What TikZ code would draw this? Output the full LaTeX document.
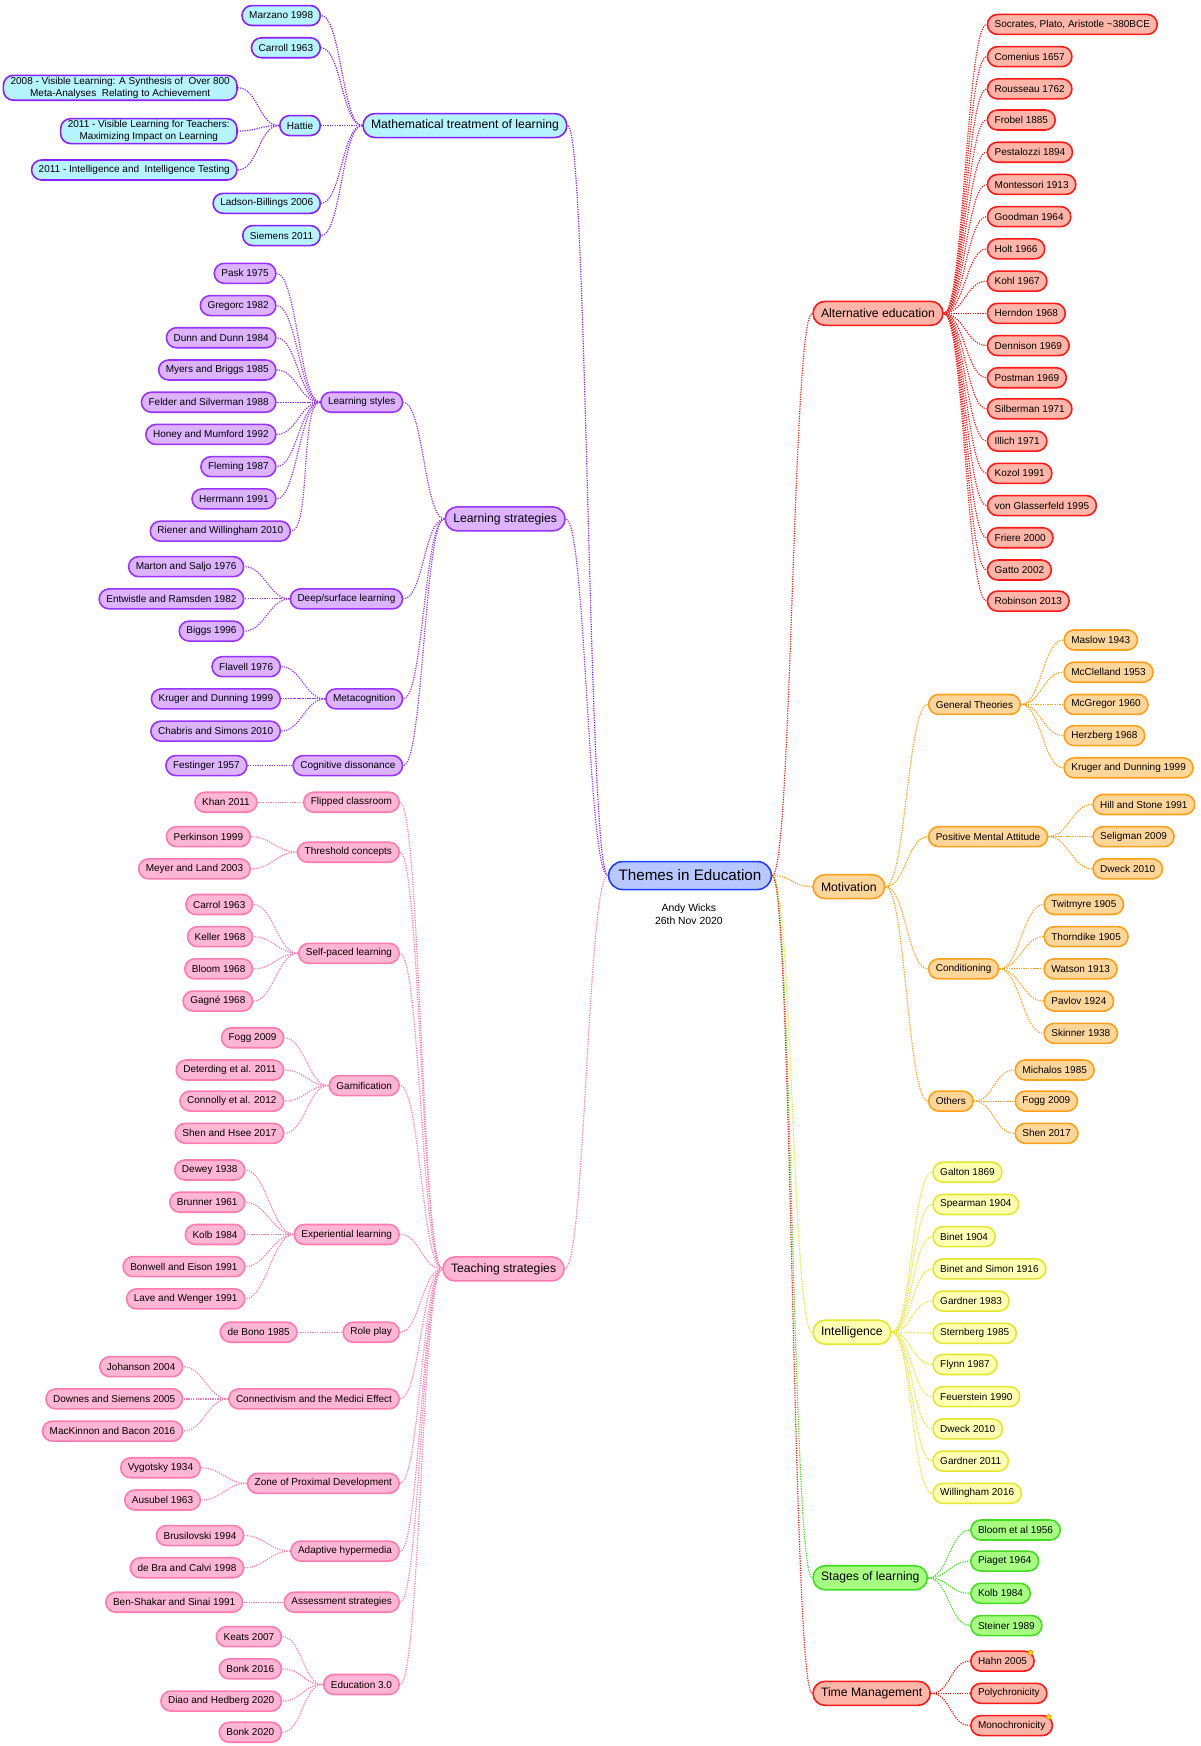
\documentclass[tikz,border=0pt]{standalone}
\usepackage{fontspec}
\setmainfont{Liberation Sans}
\definecolor{mathfill}{HTML}{B5F3FF}
\definecolor{mathline}{HTML}{8A1FFF}
\definecolor{lsfill}{HTML}{DDB3FF}
\definecolor{lsline}{HTML}{9933FF}
\definecolor{tfill}{HTML}{FFB6D5}
\definecolor{tline}{HTML}{FF7AAE}
\definecolor{afill}{HTML}{FFB5A8}
\definecolor{aline}{HTML}{FF1A1A}
\definecolor{mfill}{HTML}{FFD699}
\definecolor{mline}{HTML}{FFA01A}
\definecolor{ifill}{HTML}{FFFFB3}
\definecolor{iline}{HTML}{E6E62E}
\definecolor{sfill}{HTML}{A6FF80}
\definecolor{sline}{HTML}{44DD22}
\definecolor{rfill}{HTML}{B8C8FF}
\definecolor{rline}{HTML}{2040FF}
\tikzset{
  mm/.style={rounded corners=5pt, line width=0.8pt, minimum height=10pt, inner xsep=3.6pt, inner ysep=1pt,
    font=\fontsize{5}{5.8}\selectfont, align=center},
  big/.style={font=\fontsize{6.1}{7}\selectfont, minimum height=12pt, inner xsep=4pt, rounded corners=6pt},
  link/.style={line width=0.6pt, dash pattern=on 0.6pt off 0.6pt},
  go left/.style={to path={.. controls +(-10pt,0) and +(10pt,0) .. (\tikztotarget)}},
  go right/.style={to path={.. controls +(10pt,0) and +(-10pt,0) .. (\tikztotarget)}},
  mathbox/.style={mm, fill=mathfill, draw=mathline}, mathlink/.style={link, draw=mathline},
  lsbox/.style={mm, fill=lsfill, draw=lsline}, lslink/.style={link, draw=lsline},
  tbox/.style={mm, fill=tfill, draw=tline}, tlink/.style={link, draw=tline},
  abox/.style={mm, fill=afill, draw=aline}, alink/.style={link, draw=aline},
  mbox/.style={mm, fill=mfill, draw=mline}, mlink/.style={link, draw=mline},
  ibox/.style={mm, fill=ifill, draw=iline}, ilink/.style={link, draw=iline},
  sbox/.style={mm, fill=sfill, draw=sline}, slink/.style={link, draw=sline},
}
\begin{document}
\begin{tikzpicture}[x=0.5556pt, y=-0.5556pt]
\useasboundingbox[fill=white] (0,-3) rectangle (1080,1568.4);
% centre
\node [mm, fill=rfill, draw=rline, font=\fontsize{7.6}{9}\selectfont, minimum height=14pt, rounded corners=7pt, inner xsep=5pt] (root) at (621,785) {Themes in Education};
\node [font=\fontsize{5.2}{6.2}\selectfont, align=center] (author) at (620,820) {Andy Wicks\\26th Nov 2020};
% main branches, left
\node [mathbox, big, anchor=west] (math) at (326,110) {Mathematical treatment of learning};
\node [lsbox, big, anchor=west] (lstrat) at (400,464) {Learning strategies};
\node [tbox, big, anchor=west] (teach) at (398,1139) {Teaching strategies};
\draw [mathlink] (root.west) to[go left] (math.east);
\draw [lslink] (root.west) to[go left] (lstrat.east);
\draw [tlink] (root.west) to[go left] (teach.east);
% main branches, right
\node [abox, big, anchor=west] (alt) at (731,279) {Alternative education};
\node [mbox, big, anchor=west] (motiv) at (731,795) {Motivation};
\node [ibox, big, anchor=west] (intel) at (731,1196) {Intelligence};
\node [sbox, big, anchor=west] (stages) at (731,1417) {Stages of learning};
\node [abox, big, anchor=west] (time) at (731,1521) {Time Management};
\draw [alink] (root.east) to[go right] (alt.west);
\draw [mlink] (root.east) to[go right] (motiv.west);
\draw [ilink] (root.east) to[go right] (intel.west);
\draw [slink] (root.east) to[go right] (stages.west);
\draw [alink] (root.east) to[go right] (time.west);

% mathematical treatment
\node [mathbox, anchor=east] (hattie) at (289,110) {Hattie};
\draw [mathlink] (math.west) to[go left] (hattie.east);
\foreach \i/\y/\t in {1/11/Marzano 1998, 2/40/Carroll 1963, 3/180/Ladson-Billings 2006, 4/209/Siemens 2011}{
  \node [mathbox, anchor=east] (ma\i) at (289,\y) {\t};
  \draw [mathlink] (math.west) to[go left] (ma\i.east);
}
\foreach \i/\y/\t in {1/76/{2008 - Visible Learning: A Synthesis of \ Over 800\\Meta-Analyses \ Relating to Achievement},
    2/115/{2011 - Visible Learning for Teachers:\\Maximizing Impact on Learning},
    3/150/{2011 - Intelligence and \ Intelligence Testing}}{
  \node [mathbox, anchor=east] (ha\i) at (214,\y) {\t};
  \draw [mathlink] (hattie.west) to[go left] (ha\i.east);
}

% learning strategies
\foreach \n/\y/\t in {lstyles/359/Learning styles, deep/536/{Deep/surface learning}, meta/626/Metacognition, cogd/686/Cognitive dissonance}{
  \node [lsbox, anchor=east] (\n) at (363,\y) {\t};
  \draw [lslink] (lstrat.west) to[go left] (\n.east);
}
\foreach \i/\y/\t in {1/243/Pask 1975, 2/272/Gregorc 1982, 3/301/Dunn and Dunn 1984, 4/330/Myers and Briggs 1985,
    5/359/Felder and Silverman 1988, 6/388/Honey and Mumford 1992, 7/417/Fleming 1987, 8/446/Herrmann 1991}{
  \node [lsbox, anchor=east] (st\i) at (249,\y) {\t};
  \draw [lslink] (lstyles.west) to[go left] (st\i.east);
}
\node [lsbox, anchor=east] (st9) at (262,475) {Riener and Willingham 2010};
\draw [lslink] (lstyles.west) to[go left] (st9.east);
\foreach \i/\y/\t in {1/507/Marton and Saljo 1976, 2/536/Entwistle and Ramsden 1982, 3/565/Biggs 1996}{
  \node [lsbox, anchor=east] (dp\i) at (220,\y) {\t};
  \draw [lslink] (deep.west) to[go left] (dp\i.east);
}
\foreach \i/\y/\t in {1/597/Flavell 1976, 2/626/Kruger and Dunning 1999, 3/655/Chabris and Simons 2010}{
  \node [lsbox, anchor=east] (mc\i) at (253,\y) {\t};
  \draw [lslink] (meta.west) to[go left] (mc\i.east);
}
\node [lsbox, anchor=east] (cd1) at (223,686) {Festinger 1957};
\draw [lslink] (cogd.west) -- (cd1.east);

% teaching strategies
\foreach \n/\y/\t in {flip/719/Flipped classroom, thresh/764/Threshold concepts, selfp/855/Self-paced learning,
    gamif/974/Gamification, exper/1108/Experiential learning, role/1196/Role play,
    conn/1256/Connectivism and the Medici Effect, zpd/1332/Zone of Proximal Development,
    adapt/1393/Adaptive hypermedia, assess/1439/Assessment strategies, edu/1513/Education 3.0}{
  \node [tbox, anchor=east] (\n) at (360,\y) {\t};
  \draw [tlink] (teach.west) to[go left] (\n.east);
}
\node [tbox, anchor=east] (fl1) at (232,719) {Khan 2011};
\draw [tlink] (flip.west) -- (fl1.east);
\foreach \i/\y/\t in {1/750/Perkinson 1999, 2/779/Meyer and Land 2003}{
  \node [tbox, anchor=east] (th\i) at (226,\y) {\t};
  \draw [tlink] (thresh.west) to[go left] (th\i.east);
}
\foreach \i/\y/\t in {1/811/Carrol 1963, 2/840/Keller 1968, 3/869/Bloom 1968, 4/898/Gagné 1968}{
  \node [tbox, anchor=east] (sp\i) at (228,\y) {\t};
  \draw [tlink] (selfp.west) to[go left] (sp\i.east);
}
\foreach \i/\y/\t in {1/931/Fogg 2009, 2/960/Deterding et al. 2011, 3/988/Connolly et al. 2012, 4/1017/Shen and Hsee 2017}{
  \node [tbox, anchor=east] (gm\i) at (256,\y) {\t};
  \draw [tlink] (gamif.west) to[go left] (gm\i.east);
}
\foreach \i/\y/\t in {1/1050/Dewey 1938, 2/1079/Brunner 1961, 3/1108/Kolb 1984, 4/1137/Bonwell and Eison 1991, 5/1166/Lave and Wenger 1991}{
  \node [tbox, anchor=east] (ex\i) at (221,\y) {\t};
  \draw [tlink] (exper.west) to[go left] (ex\i.east);
}
\node [tbox, anchor=east] (rp1) at (268,1196) {de Bono 1985};
\draw [tlink] (role.west) -- (rp1.east);
\foreach \i/\y/\t in {1/1227/Johanson 2004, 2/1256/Downes and Siemens 2005, 3/1285/MacKinnon and Bacon 2016}{
  \node [tbox, anchor=east] (cn\i) at (165,\y) {\t};
  \draw [tlink] (conn.west) to[go left] (cn\i.east);
}
\foreach \i/\y/\t in {1/1318/Vygotsky 1934, 2/1347/Ausubel 1963}{
  \node [tbox, anchor=east] (zp\i) at (181,\y) {\t};
  \draw [tlink] (zpd.west) to[go left] (zp\i.east);
}
\foreach \i/\y/\t in {1/1379/Brusilovski 1994, 2/1408/de Bra and Calvi 1998}{
  \node [tbox, anchor=east] (ah\i) at (220,\y) {\t};
  \draw [tlink] (adapt.west) to[go left] (ah\i.east);
}
\node [tbox, anchor=east] (as1) at (219,1439) {Ben-Shakar and Sinai 1991};
\draw [tlink] (assess.west) -- (as1.east);
\foreach \i/\y/\t in {1/1470/Keats 2007, 2/1499/Bonk 2016, 3/1528/Diao and Hedberg 2020, 4/1556/Bonk 2020}{
  \node [tbox, anchor=east] (ed\i) at (254,\y) {\t};
  \draw [tlink] (edu.west) to[go left] (ed\i.east);
}

% alternative education
\foreach \i/\y/\t in {1/19/{Socrates, Plato, Aristotle \textasciitilde380BCE}, 2/48/Comenius 1657, 3/77/Rousseau 1762,
    4/105/Frobel 1885, 5/134/Pestalozzi 1894, 6/163/Montessori 1913, 7/192/Goodman 1964, 8/221/Holt 1966,
    9/250/Kohl 1967, 10/279/Herndon 1968, 11/308/Dennison 1969, 12/337/Postman 1969, 13/365/Silberman 1971,
    14/394/Illich 1971, 15/423/Kozol 1991, 16/452/von Glasserfeld 1995, 17/481/Friere 2000, 18/510/Gatto 2002,
    19/538/Robinson 2013}{
  \node [abox, anchor=west] (al\i) at (888,\y) {\t};
  \draw [alink] (alt.east) to[go right] (al\i.west);
}

% motivation
\foreach \n/\y/\t in {gen/631/General Theories, pma/750/Positive Mental Attitude, cond/869/Conditioning, others/988/Others}{
  \node [mbox, anchor=west] (\n) at (835,\y) {\t};
  \draw [mlink] (motiv.east) to[go right] (\n.west);
}
\foreach \i/\y/\t in {1/573/Maslow 1943, 2/602/McClelland 1953, 3/631/McGregor 1960, 4/659/Herzberg 1968, 5/688/Kruger and Dunning 1999}{
  \node [mbox, anchor=west] (gt\i) at (957,\y) {\t};
  \draw [mlink] (gen.east) to[go right] (gt\i.west);
}
\foreach \i/\y/\t in {1/721/Hill and Stone 1991, 2/750/Seligman 2009, 3/779/Dweck 2010}{
  \node [mbox, anchor=west] (pm\i) at (983,\y) {\t};
  \draw [mlink] (pma.east) to[go right] (pm\i.west);
}
\foreach \i/\y/\t in {1/811/Twitmyre 1905, 2/840/Thorndike 1905, 3/869/Watson 1913, 4/898/Pavlov 1924, 5/927/Skinner 1938}{
  \node [mbox, anchor=west] (co\i) at (939,\y) {\t};
  \draw [mlink] (cond.east) to[go right] (co\i.west);
}
\foreach \i/\y/\t in {1/960/Michalos 1985, 2/988/Fogg 2009, 3/1017/Shen 2017}{
  \node [mbox, anchor=west] (ot\i) at (913,\y) {\t};
  \draw [mlink] (others.east) to[go right] (ot\i.west);
}

% intelligence
\foreach \i/\y/\t in {1/1052/Galton 1869, 2/1081/Spearman 1904, 3/1110/Binet 1904, 4/1139/Binet and Simon 1916,
    5/1168/Gardner 1983, 6/1197/Sternberg 1985, 7/1225/Flynn 1987, 8/1254/Feuerstein 1990, 9/1283/Dweck 2010,
    10/1312/Gardner 2011, 11/1341/Willingham 2016}{
  \node [ibox, anchor=west] (in\i) at (839,\y) {\t};
  \draw [ilink] (intel.east) to[go right] (in\i.west);
}

% stages of learning
\foreach \i/\y/\t in {1/1374/Bloom et al 1956, 2/1402/Piaget 1964, 3/1431/Kolb 1984, 4/1460/Steiner 1989}{
  \node [sbox, anchor=west] (sl\i) at (873,\y) {\t};
  \draw [slink] (stages.east) to[go right] (sl\i.west);
}

% time management
\foreach \i/\y/\t in {1/1492/Hahn 2005, 2/1521/Polychronicity, 3/1550/Monochronicity}{
  \node [abox, anchor=west] (tm\i) at (873,\y) {\t};
  \draw [alink] (time.east) to[go right] (tm\i.west);
}
\fill [yellow!80!orange, draw=orange, line width=0.3pt] (tm1.north east) ++(-4,2) circle (2.2);
\fill [yellow!80!orange, draw=orange, line width=0.3pt] (tm3.north east) ++(-4,2) circle (2.2);
\end{tikzpicture}
\end{document}
